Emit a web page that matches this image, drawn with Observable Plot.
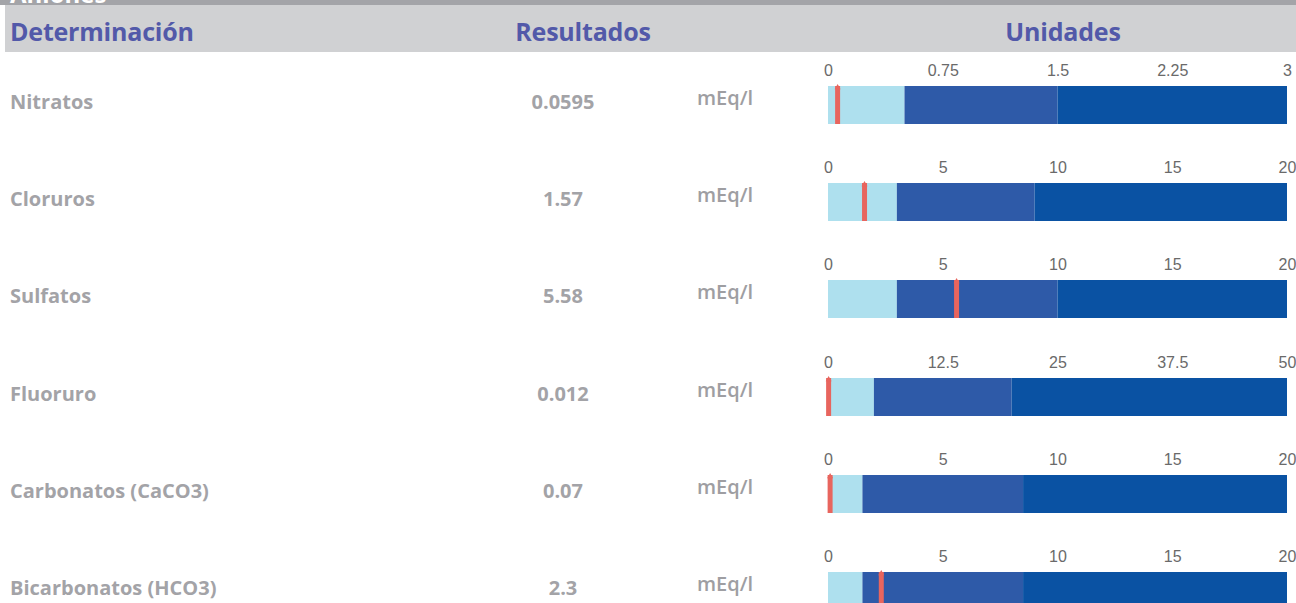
<!DOCTYPE html>
<html>
<head>
<meta charset="utf-8">
<script src="https://cdn.jsdelivr.net/npm/d3@7"></script>
<script src="https://cdn.jsdelivr.net/npm/@observablehq/plot@0.6"></script>
<style>
  html, body { margin: 0; padding: 0; background: #fff; }
  #page { position: relative; width: 1296px; height: 603px; overflow: hidden; font-family: "Open Sans", "Noto Sans", sans-serif; }
  .topband { position: absolute; left: 0; top: 0; width: 1296px; height: 5px; background: #a3a4a8; overflow: hidden; }
  .topband span { position: absolute; left: 10px; top: -23px; font-size: 24px; font-weight: 700; color: #fff; }
  .head { position: absolute; left: 5px; top: 5px; width: 1291px; height: 47px; background: #d0d1d3; }
  .h { position: absolute; top: 14px; font-size: 25px; font-weight: 700; color: #5259a9; line-height: 1; letter-spacing: -0.2px; }
  .row { position: absolute; left: 0; width: 1296px; height: 97px; }
  .lab, .res, .uni { position: absolute; font-size: 20px; font-weight: 700; color: #a3a3a7; line-height: 1; }
  .lab { left: 10px; }
  .res { left: 463px; width: 200px; text-align: center; }
  .uni { left: 697px; font-weight: 600; color: #9e9ea2; }
  .chart { position: absolute; left: 800px; }
</style>
</head>
<body>
<div id="page">
  <div class="topband"><span>Aniones</span></div>
  <div class="head">
    <div class="h" style="left:5px">Determinación</div>
    <div class="h" style="left:478px;width:200px;text-align:center">Resultados</div>
    <div class="h" style="left:958px;width:200px;text-align:center">Unidades</div>
  </div>
</div>
<script>
const names = ["Nitratos", "Cloruros", "Sulfatos", "Fluoruro", "Carbonatos (CaCO3)", "Bicarbonatos (HCO3)"];
const results = [0.0595, 1.57, 5.58, 0.012, 0.07, 2.3];
const resultLabels = ["0.0595", "1.57", "5.58", "0.012", "0.07", "2.3"];
const units = ["mEq/l", "mEq/l", "mEq/l", "mEq/l", "mEq/l", "mEq/l"];
const lowLimits = [0.5, 3, 3, 5, 1.5, 1.5];
const midLimits = [1.5, 9, 10, 20, 8.5, 8.5];
const maxValues = [3, 20, 20, 50, 20, 20];
const tickValues = [
  [0, 0.75, 1.5, 2.25, 3],
  [0, 5, 10, 15, 20],
  [0, 5, 10, 15, 20],
  [0, 12.5, 25, 37.5, 50],
  [0, 5, 10, 15, 20],
  [0, 5, 10, 15, 20]
];
const bandColors = ["#aee0ee", "#2e5aa8", "#0a52a3"];
const markerColor = "#e8655e";

const page = document.getElementById("page");
names.forEach((name, i) => {
  const top = 55 + i * 97.2;
  const row = document.createElement("div");
  row.className = "row";
  row.style.top = top + "px";
  const textTop = 37;
  row.innerHTML = `<div class="lab" style="top:${textTop}px">${name}</div>
    <div class="res" style="top:${textTop}px">${resultLabels[i]}</div>
    <div class="uni" style="top:${textTop - 4}px">${units[i]}</div>`;
  const bands = [
    {x1: 0, x2: lowLimits[i], c: 0},
    {x1: lowLimits[i], x2: midLimits[i], c: 1},
    {x1: midLimits[i], x2: maxValues[i], c: 2}
  ];
  const chart = Plot.plot({
    width: 496,
    height: 75,
    marginLeft: 28,
    marginRight: 9,
    marginTop: 31,
    marginBottom: 6,
    style: {fontFamily: "Liberation Sans, Arial, sans-serif", fontSize: "16px", color: "#666", background: "transparent", overflow: "visible"},
    x: {domain: [0, maxValues[i]], range: [28, 487]},
    marks: [
      Plot.barX(bands, {x1: "x1", x2: "x2", fill: d => bandColors[d.c]}),
      Plot.ruleX([results[i]], {stroke: markerColor, strokeWidth: 5}),
      Plot.dot([results[i]], {x: d => d, frameAnchor: "top", symbol: "triangle", r: 2.2, fill: markerColor, stroke: null, dy: 1}),
      Plot.axisX({anchor: "top", ticks: tickValues[i], tickSize: 0, tickPadding: 11, tickFormat: d => String(d), fill: "#6a6a6a"})
    ]
  });
  const wrap = document.createElement("div");
  wrap.className = "chart";
  wrap.style.top = "0px";
  wrap.appendChild(chart);
  row.appendChild(wrap);
  page.appendChild(row);
});
</script>
</body>
</html>
